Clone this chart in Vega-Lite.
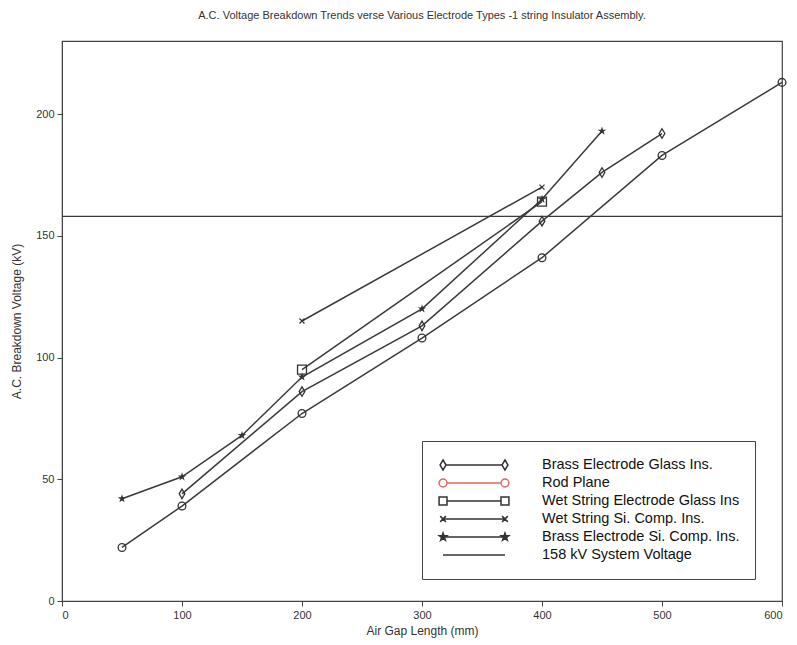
{
  "$schema": "https://vega.github.io/schema/vega-lite/v6.json",
  "width": 720,
  "height": 560,
  "padding": {"left": 10, "top": 10, "right": 15, "bottom": 8},
  "background": "white",
  "title": {
    "text": "A.C. Voltage Breakdown Trends verse Various Electrode Types -1 string Insulator Assembly.",
    "fontSize": 11,
    "font": "Liberation Sans",
    "fontWeight": "normal",
    "color": "#333",
    "anchor": "middle",
    "offset": 20
  },
  "config": {
    "view": {"stroke": "#444", "strokeWidth": 1.2},
    "axis": {
      "grid": false,
      "domainColor": "#444",
      "tickColor": "#444",
      "labelColor": "#333",
      "titleColor": "#333",
      "labelFont": "Liberation Sans",
      "titleFont": "Liberation Sans",
      "labelFontSize": 11,
      "titleFontSize": 12,
      "titleFontWeight": "normal"
    },
    "legend": {"labelFont": "Liberation Sans"}
  },
  "data": {"values": [
      {"s": "Brass Electrode Glass Ins.", "gap": 100, "kv": 44},
      {"s": "Brass Electrode Glass Ins.", "gap": 200, "kv": 86},
      {"s": "Brass Electrode Glass Ins.", "gap": 300, "kv": 113},
      {"s": "Brass Electrode Glass Ins.", "gap": 400, "kv": 156},
      {"s": "Brass Electrode Glass Ins.", "gap": 450, "kv": 176},
      {"s": "Brass Electrode Glass Ins.", "gap": 500, "kv": 192},
      {"s": "Rod Plane", "gap": 50, "kv": 22},
      {"s": "Rod Plane", "gap": 100, "kv": 39},
      {"s": "Rod Plane", "gap": 200, "kv": 77},
      {"s": "Rod Plane", "gap": 300, "kv": 108},
      {"s": "Rod Plane", "gap": 400, "kv": 141},
      {"s": "Rod Plane", "gap": 500, "kv": 183},
      {"s": "Rod Plane", "gap": 600, "kv": 213},
      {"s": "Wet String Electrode Glass Ins", "gap": 200, "kv": 95},
      {"s": "Wet String Electrode Glass Ins", "gap": 400, "kv": 164},
      {"s": "Wet String Si. Comp. Ins.", "gap": 200, "kv": 115},
      {"s": "Wet String Si. Comp. Ins.", "gap": 400, "kv": 170},
      {"s": "Brass Electrode Si. Comp. Ins.", "gap": 50, "kv": 42},
      {"s": "Brass Electrode Si. Comp. Ins.", "gap": 100, "kv": 51},
      {"s": "Brass Electrode Si. Comp. Ins.", "gap": 150, "kv": 68},
      {"s": "Brass Electrode Si. Comp. Ins.", "gap": 200, "kv": 92},
      {"s": "Brass Electrode Si. Comp. Ins.", "gap": 300, "kv": 120},
      {"s": "Brass Electrode Si. Comp. Ins.", "gap": 400, "kv": 165},
      {"s": "Brass Electrode Si. Comp. Ins.", "gap": 450, "kv": 193}
  ]},
  "layer": [
    {
      "mark": {"type": "line", "color": "#3a3a3a", "strokeWidth": 1.5},
      "encoding": {
        "x": {
          "field": "gap", "type": "quantitative",
          "scale": {"domain": [0, 600], "nice": false, "zero": false},
          "axis": {"values": [0, 100, 200, 300, 400, 500, 600], "tickSize": 5, "labelPadding": 3, "title": "Air Gap Length (mm)", "titlePadding": 5}
        },
        "y": {
          "field": "kv", "type": "quantitative",
          "scale": {"domain": [0, 230], "nice": false},
          "axis": {"values": [0, 50, 100, 150, 200], "tickSize": 5, "labelPadding": 3, "title": "A.C. Breakdown Voltage (kV)", "titlePadding": 12}
        },
        "detail": {"field": "s", "type": "nominal"}
      }
    },
    {
      "data": {"values": [{"v": 158}]},
      "mark": {"type": "rule", "color": "#3a3a3a", "strokeWidth": 1.3},
      "encoding": {
        "y": {"field": "v", "type": "quantitative"}
      }
    },
    {
      "transform": [{"filter": "datum.s === 'Brass Electrode Glass Ins.'"}],
      "mark": {"type": "point", "shape": "M0,-1L0.6,0L0,1L-0.6,0Z", "size": 90, "filled": false, "color": "#333", "strokeWidth": 1.3, "opacity": 1},
      "encoding": {
        "x": {"field": "gap", "type": "quantitative"},
        "y": {"field": "kv", "type": "quantitative"}
      }
    },
    {
      "transform": [{"filter": "datum.s === 'Rod Plane'"}],
      "mark": {"type": "point", "shape": "circle", "size": 60, "filled": false, "color": "#333", "strokeWidth": 1.3, "opacity": 1},
      "encoding": {
        "x": {"field": "gap", "type": "quantitative"},
        "y": {"field": "kv", "type": "quantitative"}
      }
    },
    {
      "transform": [{"filter": "datum.s === 'Wet String Electrode Glass Ins'"}],
      "mark": {"type": "point", "shape": "square", "size": 80, "filled": false, "color": "#333", "strokeWidth": 1.3, "opacity": 1},
      "encoding": {
        "x": {"field": "gap", "type": "quantitative"},
        "y": {"field": "kv", "type": "quantitative"}
      }
    },
    {
      "transform": [{"filter": "datum.s === 'Wet String Si. Comp. Ins.'"}],
      "mark": {"type": "point", "shape": "M-1,-1L1,1M-1,1L1,-1", "size": 25, "filled": false, "color": "#333", "strokeWidth": 1.2, "opacity": 1},
      "encoding": {
        "x": {"field": "gap", "type": "quantitative"},
        "y": {"field": "kv", "type": "quantitative"}
      }
    },
    {
      "transform": [{"filter": "datum.s === 'Brass Electrode Si. Comp. Ins.'"}],
      "mark": {"type": "point", "shape": "M0,-1L0.2245,-0.309L0.951,-0.309L0.363,0.118L0.588,0.809L0,0.382L-0.588,0.809L-0.363,0.118L-0.951,-0.309L-0.2245,-0.309Z", "size": 80, "filled": true, "color": "#333", "opacity": 1},
      "encoding": {
        "x": {"field": "gap", "type": "quantitative"},
        "y": {"field": "kv", "type": "quantitative"}
      }
    },
    {
      "data": {"values": [
        {"s": "Brass Electrode Glass Ins.", "gap": null, "kv": null},
        {"s": "Rod Plane", "gap": null, "kv": null},
        {"s": "Wet String Electrode Glass Ins", "gap": null, "kv": null},
        {"s": "Wet String Si. Comp. Ins.", "gap": null, "kv": null},
        {"s": "Brass Electrode Si. Comp. Ins.", "gap": null, "kv": null},
        {"s": "158 kV System Voltage", "gap": null, "kv": null}
      ]},
      "mark": {"type": "point", "strokeWidth": 1.2, "opacity": 1},
      "encoding": {
        "x": {"field": "gap", "type": "quantitative"},
        "y": {"field": "kv", "type": "quantitative"},
        "shape": {
          "field": "s", "type": "nominal",
          "scale": {
            "domain": ["Brass Electrode Glass Ins.", "Rod Plane", "Wet String Electrode Glass Ins", "Wet String Si. Comp. Ins.", "Brass Electrode Si. Comp. Ins.", "158 kV System Voltage"],
            "range": [
              "M-0.777,0L0.777,0M-0.86,-0.14L-0.777,0L-0.86,0.14L-0.943,0ZM0.86,-0.14L0.943,0L0.86,0.14L0.777,0Z",
              "M-0.75,0L0.75,0M-0.75,0A0.11,0.11 0 1,1 -0.97,0A0.11,0.11 0 1,1 -0.75,0ZM0.97,0A0.11,0.11 0 1,1 0.75,0A0.11,0.11 0 1,1 0.97,0Z",
              "M-0.75,0L0.75,0M-0.97,-0.11L-0.75,-0.11L-0.75,0.11L-0.97,0.11ZM0.75,-0.11L0.97,-0.11L0.97,0.11L0.75,0.11Z",
              "M-0.86,0L0.86,0M-0.94,-0.08L-0.78,0.08M-0.94,0.08L-0.78,-0.08M0.78,-0.08L0.94,0.08M0.78,0.08L0.94,-0.08",
              "M-0.86,0L0.86,0M-0.86,-0.11L-0.834,-0.036L-0.755,-0.034L-0.818,0.014L-0.795,0.089L-0.86,0.044L-0.925,0.089L-0.902,0.014L-0.965,-0.034L-0.886,-0.036ZM0.86,-0.11L0.886,-0.036L0.965,-0.034L0.902,0.014L0.925,0.089L0.86,0.044L0.795,0.089L0.818,0.014L0.755,-0.034L0.834,-0.036Z",
              "M-0.86,0L0.86,0"
            ]
          },
          "legend": {
            "title": null,
            "orient": "none",
            "legendX": 360,
            "legendY": 400,
            "strokeColor": "#444",
            "padding": 15,
            "symbolSize": 5184,
            "clipHeight": 18,
            "rowPadding": 0,
            "labelFontSize": 14.5,
            "labelColor": "#111",
            "labelOffset": 31,
            "labelLimit": 400
          }
        },
        "stroke": {
          "field": "s", "type": "nominal",
          "scale": {
            "domain": ["Brass Electrode Glass Ins.", "Rod Plane", "Wet String Electrode Glass Ins", "Wet String Si. Comp. Ins.", "Brass Electrode Si. Comp. Ins.", "158 kV System Voltage"],
            "range": ["#333", "#e06a5e", "#333", "#333", "#333", "#333"]
          },
          "legend": {"title": null}
        },
        "fill": {
          "field": "s", "type": "nominal",
          "scale": {
            "domain": ["Brass Electrode Glass Ins.", "Rod Plane", "Wet String Electrode Glass Ins", "Wet String Si. Comp. Ins.", "Brass Electrode Si. Comp. Ins.", "158 kV System Voltage"],
            "range": ["transparent", "transparent", "transparent", "transparent", "#333", "transparent"]
          },
          "legend": {"title": null}
        }
      }
    }
  ]
}
